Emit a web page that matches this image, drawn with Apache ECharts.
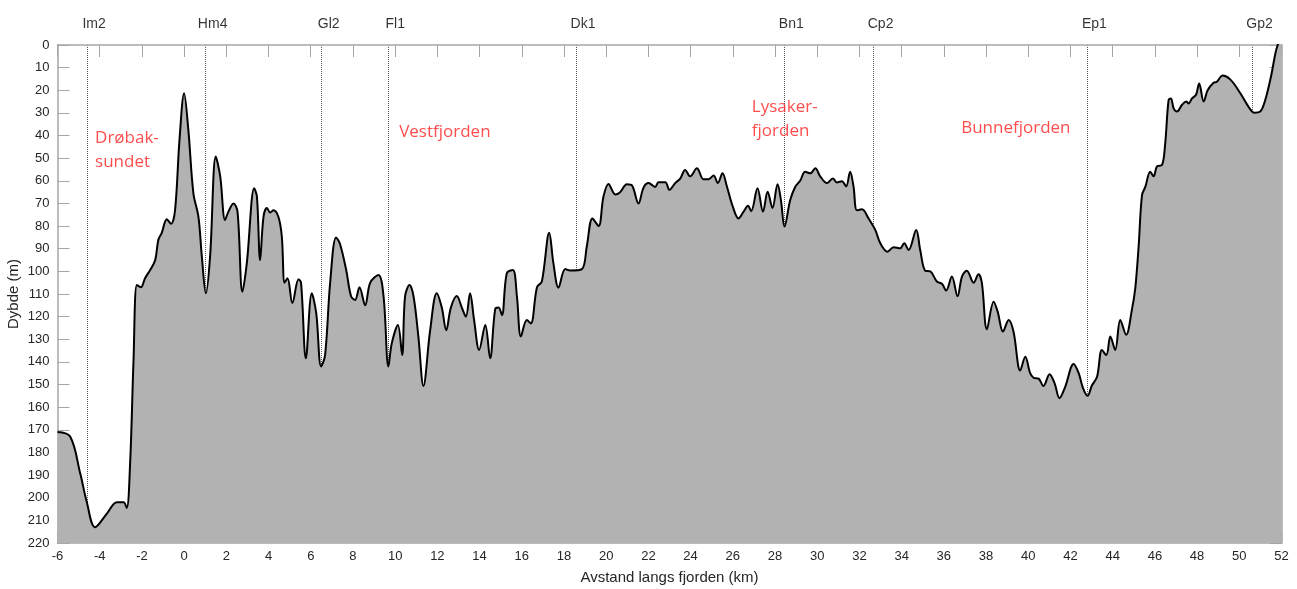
<!DOCTYPE html>
<html>
<head>
<meta charset="utf-8">
<script src="https://cdn.jsdelivr.net/npm/echarts@6/dist/echarts.min.js"></script>
<style>
  html, body { margin: 0; padding: 0; background: #fff; }
  #chart { width: 1297px; height: 589px; }
</style>
</head>
<body>
<div id="chart"></div>
<script>
// bunnprofil langs fjorden: avstand (km) og dybde (m)
const distKm = [
  -6.0, -5.4, -4.93, -4.61, -4.22, -3.66, -3.19, -2.87, -2.72, -2.56, -2.40, -2.24, -2.05, -1.85, -1.61, -1.37,
  -1.22, -1.06, -0.82, -0.62, -0.43, -0.22, 0, 0.2, 0.44, 0.68, 0.84, 1.03, 1.23, 1.50, 1.71, 1.94,
  2.10, 2.34, 2.53, 2.76, 2.97, 3.32, 3.45, 3.60, 3.76, 3.92, 4.08, 4.23, 4.47, 4.63, 4.76, 4.90,
  5.13, 5.42, 5.54, 5.77, 6.05, 6.26, 6.49, 6.68, 6.92, 7.20, 7.39, 7.68, 7.91, 8.10, 8.31, 8.58,
  8.82, 9.21, 9.45, 9.68, 9.84, 10.13, 10.33, 10.47, 10.68, 10.87, 11.10, 11.34, 11.66, 11.97, 12.21, 12.42,
  12.64, 12.92, 13.16, 13.35, 13.55, 13.74, 13.98, 14.27, 14.50, 14.74, 14.90, 15.06, 15.29, 15.58, 15.77, 15.96,
  16.24, 16.43, 16.72, 16.95, 17.30, 17.50, 17.74, 18.06, 18.29, 18.85, 19.08, 19.35, 19.64, 19.87, 20.11, 20.43,
  20.66, 20.98, 21.22, 21.53, 21.77, 22.01, 22.32, 22.48, 22.80, 23.00, 23.27, 23.51, 23.74, 23.98, 24.30, 24.61,
  24.85, 25.09, 25.29, 25.51, 25.72, 26.00, 26.27, 26.51, 26.72, 26.87, 27.17, 27.43, 27.65, 27.88, 28.12, 28.28,
  28.45, 28.72, 28.96, 29.19, 29.43, 29.67, 29.91, 30.14, 30.46, 30.74, 30.93, 31.17, 31.37, 31.56, 31.72, 31.88,
  32.12, 32.43, 32.75, 32.99, 33.33, 33.62, 33.93, 34.12, 34.33, 34.69, 34.88, 35.12, 35.36, 35.67, 35.91, 36.11,
  36.38, 36.65, 36.86, 37.09, 37.41, 37.64, 37.80, 38.04, 38.36, 38.55, 38.80, 39.07, 39.30, 39.62, 39.86, 40.09,
  40.25, 40.49, 40.72, 41.01, 41.25, 41.48, 41.75, 42.15, 42.39, 42.59, 42.81, 43.02, 43.26, 43.49, 43.70, 43.89,
  44.12, 44.36, 44.64, 44.91, 45.07, 45.23, 45.39, 45.55, 45.78, 45.94, 46.10, 46.34, 46.49, 46.65, 46.76, 46.89,
  47.05, 47.28, 47.49, 47.60, 47.76, 47.95, 48.10, 48.31, 48.50, 48.78, 48.94, 49.20, 49.57, 50.05, 50.44, 50.71,
  50.99, 51.23, 51.50, 51.71, 51.82, 52.0
];
const depthM = [
  171, 173, 189, 202, 213, 207, 202, 202, 204.5, 185, 140, 106, 107, 103, 99.4, 95,
  86, 83, 77, 79, 73, 42, 21.3, 37.5, 65.5, 76, 93.5, 109.7, 93.5, 49.3, 58, 77.3,
  73.6, 70, 73.6, 109, 96.5, 63.3, 67, 95, 76, 72, 74, 73, 76, 84.7, 105, 103,
  114, 103.5, 105, 138.4, 109.7, 118.5, 142, 137, 105, 85, 88, 99.4, 111, 112.6, 107, 115,
  105, 101.6, 111, 142, 131.8, 123.7, 137, 111, 106, 111, 128.8, 150.6, 125.9, 109.7, 116, 126,
  116, 110.9, 116, 120, 109.7, 121.5, 134.7, 123.7, 138.4, 116.7, 116, 119.4, 100.8, 99.4, 111, 128.8,
  121.5, 123, 107, 104.5, 82.9, 96.5, 107.2, 99, 99.6, 99, 89, 76.6, 80, 67, 61.4, 66,
  65, 61.5, 62, 70, 63, 61, 62.7, 60.6, 60.6, 64, 61, 59, 55.2, 58, 54.5, 59.3,
  59.3, 57.7, 61, 56.7, 62.5, 71.4, 76.6, 73.6, 71, 73.4, 63.3, 73.6, 64.8, 72, 61.5, 68.5,
  80.2, 68.5, 62.6, 60, 56, 56.7, 54.5, 58, 61, 59, 60.7, 60.2, 62.5, 56, 62.5, 73,
  72.6, 76.6, 81.7, 87.6, 91.3, 89.3, 89.8, 87.6, 90.6, 81.7, 90.6, 99.7, 100, 104.5, 105.5, 108.5,
  102.3, 111, 102.3, 99.7, 105, 101.3, 105, 125.6, 113.4, 117.8, 126.6, 121.5, 126.6, 143.8, 137.7, 145,
  147, 147.4, 150.6, 145.4, 149.5, 156, 151, 140.9, 145, 151.5, 155, 150.3, 146.6, 134.7, 137, 128.8,
  134.7, 121.5, 128, 117, 107.5, 89, 66.3, 62.6, 56, 58, 53.6, 53, 43.4, 24.3, 23.6, 28,
  29.4, 26.5, 25, 25.8, 23.6, 22, 17, 25, 20, 16.7, 16.2, 13.5, 15.2, 21.3, 27.3, 29.9,
  29.4, 24.3, 14, 3.7, 0, -4
];

// stasjoner
const stationNames = ['Im2', 'Hm4', 'Gl2', 'Fl1', 'Dk1', 'Bn1', 'Cp2', 'Ep1', 'Gp2'];
const stationKm = [-4.6, 1.02, 6.52, 9.67, 18.57, 28.44, 32.67, 42.8, 50.63];

// områdenavn (venstre kant, midt på teksten)
const regionNames = ['Drøbak-\nsundet', 'Vestfjorden', 'Lysaker-\nfjorden', 'Bunnefjorden'];
const regionKm = [-4.22, 10.19, 26.9, 36.82];
const regionDepth = [46.4, 38.4, 32.7, 36.7];

const chart = echarts.init(document.getElementById('chart'));

const frameColor = '#a6a6a6';
const tickFont = { fontFamily: 'Liberation Sans', fontSize: 13, color: '#262626' };

const xBase = {
  type: 'value', min: -6, max: 52, interval: 2,
  axisLine: { show: true, onZero: false, lineStyle: { color: frameColor, width: 1.5 } },
  axisTick: { show: true, inside: true, length: 12, lineStyle: { color: frameColor } },
  splitLine: { show: false }
};
const yBase = {
  type: 'value', min: 0, max: 220, interval: 10, inverse: true,
  axisLine: { show: true, onZero: false, lineStyle: { color: frameColor, width: 1.5 } },
  axisTick: { show: true, inside: true, length: 12, lineStyle: { color: frameColor } },
  splitLine: { show: false }
};

const option = {
  animation: false,
  backgroundColor: '#fff',
  grid: { left: 57.5, right: 15.5, top: 45, bottom: 46, containLabel: false, outerBoundsMode: 'none' },
  xAxis: [
    Object.assign({}, xBase, {
      position: 'bottom',
      axisLabel: Object.assign({ margin: 7 }, tickFont),
      name: 'Avstand langs fjorden (km)',
      nameLocation: 'middle',
      nameGap: 27,
      nameMoveOverlap: false,
      nameTextStyle: { fontFamily: 'Liberation Sans', fontSize: 15, color: '#262626' }
    }),
    Object.assign({}, xBase, { position: 'top', axisLabel: { show: false } })
  ],
  yAxis: [
    Object.assign({}, yBase, {
      position: 'left',
      axisLabel: Object.assign({ margin: 8 }, tickFont),
      name: 'Dybde (m)',
      nameLocation: 'middle',
      nameGap: 36,
      nameMoveOverlap: false,
      nameTextStyle: { fontFamily: 'Liberation Sans', fontSize: 15, color: '#262626' }
    }),
    Object.assign({}, yBase, { position: 'right', axisLabel: { show: false } })
  ],
  series: [
    {
      // stasjonsnavn og stiplede linjer (bak bunnflaten)
      type: 'scatter',
      z: 1,
      symbolSize: 0,
      data: stationKm.map((k, i) => ({ value: [k, 0], name: stationNames[i] })),
      label: {
        show: true, position: 'top', distance: 14, offset: [7, 0],
        formatter: p => p.name,
        fontFamily: 'Liberation Sans', fontSize: 14, color: '#000'
      },
      markLine: {
        silent: true,
        z: 0,
        symbol: 'none',
        label: { show: false },
        lineStyle: { color: '#555', type: 'dotted', width: 1 },
        data: stationKm.map(k => ({ xAxis: k }))
      }
    },
    {
      name: 'Bunn',
      type: 'line',
      z: 3,
      data: distKm.map((k, i) => [k, depthM[i]]),
      showSymbol: false,
      smooth: 0.35,
      lineStyle: { color: '#000', width: 2 },
      areaStyle: { color: '#b2b2b2', opacity: 1, origin: 'end' }
    },
    {
      // røde områdenavn
      type: 'scatter',
      z: 5,
      symbolSize: 0,
      data: regionKm.map((k, i) => ({ value: [k, regionDepth[i]], name: regionNames[i] })),
      label: {
        show: true, position: 'right', distance: 0, align: 'left', verticalAlign: 'middle',
        formatter: p => p.name,
        fontFamily: 'Open Sans', fontSize: 17, lineHeight: 24, color: '#ff1f1f'
      }
    }
  ]
};

chart.setOption(option);
</script>
</body>
</html>
